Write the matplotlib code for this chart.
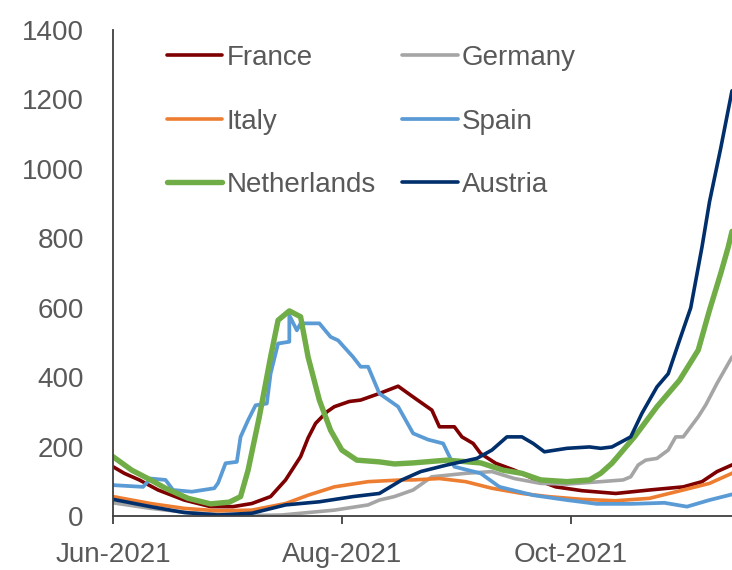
import datetime as dt
import matplotlib
matplotlib.use('Agg')
import matplotlib.pyplot as plt
import matplotlib.dates as mdates

start = dt.date(2021, 6, 1)

# days since 1 Jun 2021 and values
france_days = [0, 3, 7, 12, 19, 26, 32, 37, 42, 46, 50, 52, 54, 57, 59, 63, 66, 71, 76, 80, 85, 87, 91, 93, 96, 98, 102, 107, 112, 118, 125, 134, 143, 152, 157, 161, 166]
france_vals = [142, 123, 104, 75, 46, 27, 27, 36, 56, 104, 171, 225, 267, 300, 315, 330, 334, 353, 374, 343, 305, 257, 257, 228, 209, 180, 152, 132, 108, 84, 73, 65, 75, 84, 99, 128, 152]

germany_days = [0, 10, 20, 30, 40, 45, 50, 59, 68, 71, 75, 80, 85, 94, 101, 107, 114, 121, 130, 136, 138, 140, 142, 145, 148, 150, 152, 154, 156, 158, 161.5, 165.6]
germany_vals = [38, 22, 10, 4, 2, 3, 8, 17, 32, 46, 56, 75, 113, 123, 128, 108, 94, 92, 99, 104, 113, 147, 161, 166, 190, 228, 228, 257, 286, 320, 382, 458]

italy_days = [0, 10, 19, 28, 37, 46, 52, 59, 68, 77, 80, 87, 94, 101, 109, 116, 125, 134, 143, 152, 159, 166]
italy_vals = [56, 36, 22, 15, 17, 36, 60, 84, 99, 104, 104, 108, 99, 80, 65, 56, 48, 44, 51, 75, 94, 128]

spain_days = [0, 8, 10, 14, 16, 21, 27, 28.6, 30.4, 33, 34, 36.7, 38.4, 41.1, 42.9, 44.7, 47.4, 47.8, 49.2, 50, 55.4, 58.9, 60.7, 64.3, 66.1, 68, 71, 76, 80, 84, 88, 91, 98, 103, 112, 121, 129, 138, 147, 153, 159, 166]
spain_vals = [89, 84, 108, 104, 75, 70, 80, 95, 152, 156, 228, 276, 319, 324, 410, 497, 502, 578, 535, 555, 555, 516, 506, 458, 430, 430, 353, 315, 238, 220, 209, 142, 123, 84, 60, 46, 35, 35, 38, 27, 46, 65]

nl_days = [0, 5, 10, 14, 20, 26, 28.6, 31, 34, 36.7, 39.3, 42, 44.7, 47.4, 50, 52.7, 55.4, 58, 61.6, 65.2, 71, 75, 80, 89, 98, 104, 109, 114, 121, 127, 130, 133, 139, 145.5, 151, 156, 159.7, 162.4, 164.2, 165.6]
nl_vals = [171, 132, 104, 80, 51, 35, 37, 40, 56, 132, 286, 458, 564, 591, 574, 458, 334, 247, 190, 161, 156, 150, 153, 161, 153, 132, 123, 104, 99, 104, 123, 152, 228, 315, 391, 478, 593, 699, 775, 820]

austria_days = [0, 10, 19, 28, 37, 46, 55, 64, 71, 77, 82, 89, 97, 101, 105, 109, 112, 115, 121, 127, 130.3, 133.8, 138.3, 141.9, 145.5, 148.1, 151.7, 154.4, 157, 159.7, 162.4, 165.6]
austria_vals = [48, 27, 10, 3, 8, 32, 41, 56, 65, 104, 128, 147, 166, 190, 228, 228, 209, 185, 195, 199, 195, 199, 228, 296, 372, 410, 506, 600, 775, 905, 1060, 1225]

series = [
    ('France', france_days, france_vals, '#7F0000', 2.6),
    ('Germany', germany_days, germany_vals, '#A5A5A5', 2.6),
    ('Italy', italy_days, italy_vals, '#ED7D31', 2.6),
    ('Spain', spain_days, spain_vals, '#5B9BD5', 2.7),
    ('Netherlands', nl_days, nl_vals, '#70AD47', 3.9),
    ('Austria', austria_days, austria_vals, '#002F6C', 2.6),
]

plt.rcParams['font.family'] = ['Liberation Sans', 'DejaVu Sans']
text_col = '#595959'

fig = plt.figure(figsize=(7.32, 5.70), dpi=100)
ax = fig.add_axes([0.1544, 0.0947, 0.8456, 0.8526])

lines = {}
for name, days, vals, col, lw in series:
    dates = [start + dt.timedelta(days=d) for d in days]
    lines[name], = ax.plot(dates, vals, color=col, linewidth=lw, label=name,
                           solid_capstyle='round', solid_joinstyle='round')

ax.set_ylim(0, 1400)
ax.set_yticks(range(0, 1401, 200))
ax.set_xlim(start, start + dt.timedelta(days=165.6))
ax.xaxis.set_major_locator(mdates.MonthLocator(bymonth=[6, 8, 10, 12]))
ax.xaxis.set_major_formatter(mdates.DateFormatter('%b-%Y'))

for s in ['top', 'right']:
    ax.spines[s].set_visible(False)
for s in ['left', 'bottom']:
    ax.spines[s].set_color('#404040')
    ax.spines[s].set_linewidth(1.3)

ax.tick_params(axis='y', length=0, pad=21, labelsize=20, labelcolor=text_col)
ax.tick_params(axis='x', length=6, width=1.3, color='#404040', pad=13,
               labelsize=20, labelcolor=text_col)

# legend fills rows: France Germany / Italy Spain / Netherlands Austria
order = ['France', 'Italy', 'Netherlands', 'Germany', 'Spain', 'Austria']
ax.legend([lines[n] for n in order], order,
          loc='upper left', bbox_to_anchor=(0.087, 0.969), ncol=2, frameon=False,
          fontsize=20, labelcolor=text_col, handlelength=2.0, handletextpad=0.15,
          columnspacing=0.95, labelspacing=1.35, borderpad=0, borderaxespad=0)

fig.savefig('out.png', dpi=100)
